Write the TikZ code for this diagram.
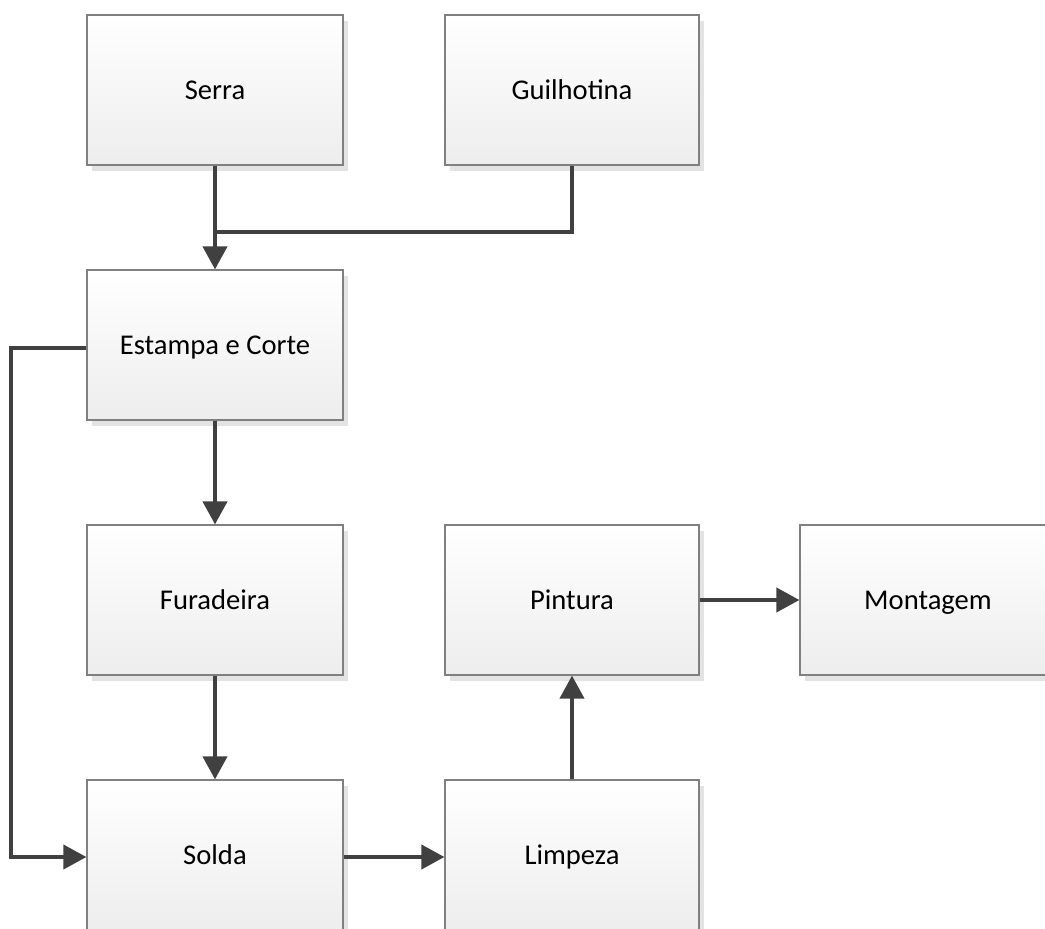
\documentclass[tikz,border=0pt]{standalone}
\usepackage{fontspec}
\setmainfont{Carlito}
\usetikzlibrary{arrows.meta,shadows}
\definecolor{boxline}{HTML}{808080}
\definecolor{conncol}{HTML}{404040}
\begin{document}
\begin{tikzpicture}[x=1pt,y=-1pt,
  proc/.style={draw=boxline, line width=1.2pt, top color=white, bottom color=black!7,
    minimum width=256pt, minimum height=150pt, inner sep=0pt,
    text height=19pt, text depth=1pt,
    font=\fontsize{28.6}{34}\selectfont,
    drop shadow={shadow xshift=5pt, shadow yshift=-6pt, fill=black!11, opacity=1}},
  conn/.style={draw=conncol, line width=4pt, line join=miter},
  arr/.style={conn, -{Triangle[length=23pt,width=24pt]}}]
  \useasboundingbox (0,0) rectangle (1045,929);
  \clip (0,0) rectangle (1045,929);

  % process boxes
  \node[proc] (serra)   at (215,90)  {Serra};
  \node[proc, minimum width=254pt] (guil) at (572,90) {Guilhotina};
  \node[proc] (estampa) at (215,345) {Estampa e Corte};
  \node[proc] (furad)   at (215,600) {Furadeira};
  \node[proc, minimum width=254pt] (pintura) at (572,600) {Pintura};
  \node[proc] (montagem) at (928,600) {Montagem};
  \node[proc] (solda)   at (215,855) {Solda};
  \node[proc, minimum width=254pt] (limpeza) at (572,855) {Limpeza};

  % helper points
  \coordinate (join) at (215,232);
  \coordinate (rail) at (11,348);

  % connectors
  \draw[arr] (serra.south) -- (estampa.north);
  \draw[conn] (guil.south) |- (join);
  \draw[arr] ([yshift=-3pt]estampa.west) -- (rail) |- ([yshift=-2pt]solda.west);
  \draw[arr] (estampa.south) -- (furad.north);
  \draw[arr] (furad.south) -- (solda.north);
  \draw[arr] ([yshift=-2pt]solda.east) -- ([yshift=-2pt]limpeza.west);
  \draw[arr] (limpeza.north) -- (pintura.south);
  \draw[arr] (pintura.east) -- (montagem.west);
\end{tikzpicture}
\end{document}
